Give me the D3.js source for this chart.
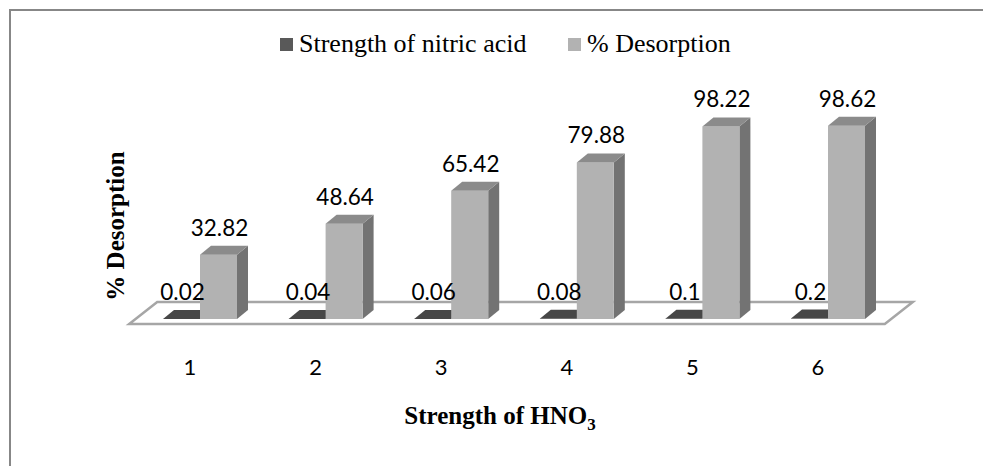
<!DOCTYPE html>
<html>
<head>
<meta charset="utf-8">
<script src="https://cdn.jsdelivr.net/npm/d3@7"></script>
<style>
  html, body { margin: 0; padding: 0; background: #fff; }
  svg { display: block; }
</style>
</head>
<body>
<svg id="chart" width="983" height="466"></svg>
<script>
// Desorption of metal ions versus strength of nitric acid
const categories = ["1", "2", "3", "4", "5", "6"];
const seriesNames = ["Strength of nitric acid", "% Desorption"];
const nitricStrength = [0.02, 0.04, 0.06, 0.08, 0.1, 0.2];
const desorption = [32.82, 48.64, 65.42, 79.88, 98.22, 98.62];

const seriesValues = [nitricStrength, desorption];
const seriesStyle = [
  { front: "#595959", top: "#474747", side: "#3a3a3a", legend: "#595959" },
  { front: "#b2b2b2", top: "#8b8b8b", side: "#737373", legend: "#b2b2b2" }
];

const svg = d3.select("#chart");

// outer frame (runs off the right and bottom edges)
svg.append("rect")
  .attr("x", 10).attr("y", 10)
  .attr("width", 990).attr("height", 480)
  .attr("fill", "none")
  .attr("stroke", "#878787")
  .attr("stroke-width", 2);

// scales
const x = d3.scaleBand().domain(categories).range([137.2, 890.8]).padding(0);
const barW = 37;
const inner = d3.scaleBand().domain(seriesNames).range([-barW, barW]).padding(0);
const y = d3.scaleLinear().domain([0, 100]).range([319, 123]);

// 3D depth offsets
const dx = 11, dy = 9;           // bar depth
const fdx = 14, fdy = 11;        // half floor depth
const floorMidY = y(0) - 6;

// floor
const [r0, r1] = x.range();
const floorPts = [
  [r0 + 6 - fdx, floorMidY + fdy],
  [r0 + 6 + fdx, floorMidY - fdy],
  [r1 + 8 + fdx, floorMidY - fdy],
  [r1 + 8 - fdx, floorMidY + fdy]
];
svg.append("polygon")
  .attr("points", floorPts.map(p => p.join(",")).join(" "))
  .attr("fill", "#fff")
  .attr("stroke", "#a6a6a6")
  .attr("stroke-width", 2.5);

// bars
const bars = svg.append("g");
categories.forEach((c, i) => {
  seriesNames.forEach((s, k) => {
    const v = seriesValues[k][i];
    const st = seriesStyle[k];
    const x0 = x(c) + x.bandwidth() / 2 + inner(s);
    const x1 = x0 + inner.bandwidth();
    const yt = y(v), yb = y(0);
    const g = bars.append("g");
    // side
    g.append("polygon")
      .attr("points", [[x1, yt], [x1 + dx, yt - dy], [x1 + dx, yb - dy], [x1, yb]].map(p => p.join(",")).join(" "))
      .attr("fill", st.side);
    // front
    g.append("rect")
      .attr("x", x0).attr("y", yt)
      .attr("width", x1 - x0).attr("height", Math.max(0, yb - yt))
      .attr("fill", st.front);
    // top
    g.append("polygon")
      .attr("points", [[x0, yt], [x0 + dx, yt - dy], [x1 + dx, yt - dy], [x1, yt]].map(p => p.join(",")).join(" "))
      .attr("fill", st.top);
  });
});

// value labels
const labels = svg.append("g")
  .attr("font-family", "Lato, 'Open Sans', sans-serif")
  .attr("font-size", 22.5)
  .attr("fill", "#000")
  .attr("text-anchor", "middle");
categories.forEach((c, i) => {
  seriesNames.forEach((s, k) => {
    const v = seriesValues[k][i];
    const cx = x(c) + x.bandwidth() / 2 + inner(s) + inner.bandwidth() / 2 + 1;
    labels.append("text")
      .attr("x", cx)
      .attr("y", y(v) - dy - 10)
      .text(String(v));
  });
});

// category labels
const cat = svg.append("g")
  .attr("font-family", "Lato, 'Open Sans', sans-serif")
  .attr("font-size", 22)
  .attr("fill", "#000")
  .attr("text-anchor", "middle");
categories.forEach(c => {
  cat.append("text")
    .attr("x", x(c) + x.bandwidth() / 2 - 10)
    .attr("y", 375)
    .text(c);
});

// axis titles
svg.append("text")
  .attr("transform", "translate(124,226) rotate(-90)")
  .attr("text-anchor", "middle")
  .attr("font-family", "'Liberation Serif', 'Times New Roman', serif")
  .attr("font-weight", "bold")
  .attr("font-size", 25)
  .text("% Desorption");

const xt = svg.append("text")
  .attr("x", 500).attr("y", 424)
  .attr("text-anchor", "middle")
  .attr("font-family", "'Liberation Serif', 'Times New Roman', serif")
  .attr("font-weight", "bold")
  .attr("font-size", 25);
xt.append("tspan").text("Strength of HNO");
xt.append("tspan").attr("font-size", 17).attr("dy", 6).text("3");

// legend
const legend = svg.append("g")
  .attr("font-family", "'Liberation Serif', 'Times New Roman', serif")
  .attr("font-size", 26);
const legendX = [280, 568];
seriesNames.forEach((s, k) => {
  const g = legend.append("g").attr("transform", `translate(${legendX[k]},0)`);
  g.append("rect").attr("x", 0).attr("y", 38).attr("width", 13).attr("height", 13)
    .attr("fill", seriesStyle[k].legend);
  g.append("text").attr("x", 19).attr("y", 52).text(s);
});
</script>
</body>
</html>
